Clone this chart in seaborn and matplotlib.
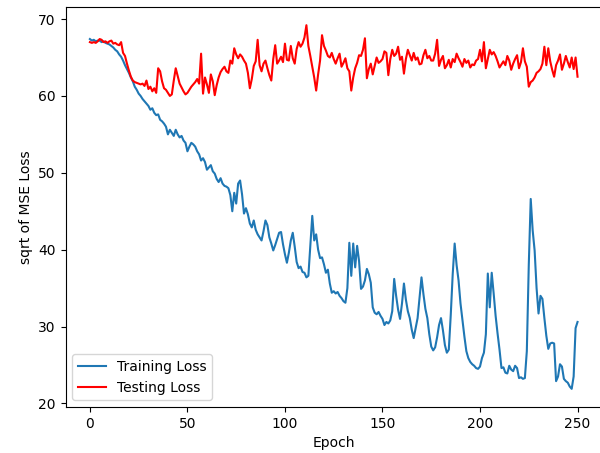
import numpy as np
import pandas as pd
import matplotlib
matplotlib.use("Agg")
import matplotlib.pyplot as plt
import seaborn as sns

# loss values, one per epoch (0..250)
train_loss = [
    67.4, 67.2, 67.3, 67.1, 67.2, 67.2, 67.0, 67.1, 66.9, 66.8,
    66.7, 66.5, 66.3, 66.0, 65.8, 65.4, 65.1, 64.6, 64.0, 63.5,
    63.0, 62.4, 61.9, 61.2, 60.8, 60.3, 60.0, 59.6, 59.3, 59.0,
    58.7, 58.2, 58.4, 57.8, 57.5, 57.6, 56.9, 56.7, 56.4, 56.0,
    55.0, 55.6, 55.2, 54.8, 55.6, 55.0, 54.6, 54.8, 54.2, 53.9,
    52.8, 53.4, 53.9, 53.7, 53.4, 52.8, 52.4, 51.6, 51.9, 51.4,
    50.4, 50.7, 51.0, 50.2, 49.9, 49.2, 48.8, 49.3, 48.6, 48.3,
    48.2, 48.0, 47.1, 45.0, 47.4, 46.0, 48.6, 49.0, 47.2, 44.7,
    45.4, 44.6, 43.4, 42.9, 43.8, 42.6, 42.0, 41.6, 41.2, 42.4,
    43.8, 43.2, 41.6, 40.8, 39.9, 40.6, 41.4, 42.2, 42.3, 40.7,
    39.4, 38.3, 39.6, 41.2, 42.2, 40.4, 38.4, 37.6, 37.8, 37.1,
    37.0, 36.4, 36.6, 40.5, 44.4, 41.2, 42.0, 40.0, 38.9, 39.0,
    38.1, 37.0, 37.4, 35.6, 34.4, 34.6, 34.3, 34.5, 34.0, 33.7,
    33.3, 33.1, 35.0, 40.9, 36.6, 40.8, 37.7, 40.5, 38.5, 34.9,
    35.2, 36.0, 37.5, 36.8, 35.7, 32.5, 31.8, 31.6, 31.9, 31.4,
    31.0, 30.2, 30.6, 30.4, 30.8, 32.0, 36.2, 34.0, 32.2, 31.0,
    33.0, 35.6, 33.5, 32.0, 31.1, 29.6, 28.5, 29.8, 31.1, 33.8,
    36.4, 34.2, 32.3, 31.1, 29.0, 27.4, 26.9, 27.3, 28.6, 30.2,
    31.1, 29.5, 27.6, 26.6, 27.0, 31.5, 36.8, 40.8, 38.0, 36.0,
    33.0, 30.8, 28.7, 26.8, 25.9, 25.4, 25.1, 24.9, 24.6, 24.5,
    24.8, 25.9, 26.6, 29.0, 36.9, 32.5, 37.0, 34.3, 31.4, 29.1,
    27.0, 24.6, 24.7, 24.0, 23.9, 24.9, 24.4, 24.2, 24.9, 24.6,
    23.3, 23.4, 23.2, 23.3, 26.8, 38.0, 46.6, 42.5, 39.9, 35.0,
    31.7, 34.0, 33.6, 31.1, 28.8, 27.1, 27.8, 27.9, 27.8, 22.9,
    23.5, 25.1, 24.8, 23.2, 22.9, 22.7, 22.2, 21.9, 23.5, 29.8,
    30.6,
]

test_loss = [
    67.0, 66.9, 67.0, 66.9, 67.1, 67.4, 67.3, 67.0, 67.1, 66.9,
    67.1, 67.2, 66.8, 66.9, 66.7, 66.6, 67.0, 65.6, 65.2, 64.2,
    63.3, 62.5, 62.0, 61.8, 61.7, 61.6, 61.5, 61.6, 61.3, 62.0,
    60.9, 61.2, 60.6, 61.0, 60.4, 63.6, 63.2, 61.9, 61.0, 60.8,
    60.4, 60.0, 60.2, 62.0, 63.6, 62.6, 61.6, 61.1, 60.6, 60.2,
    60.4, 60.8, 61.2, 61.5, 61.8, 62.2, 61.6, 65.5, 60.3, 62.4,
    61.5, 60.4, 62.8, 61.9, 60.1, 61.4, 62.4, 63.1, 63.5, 63.8,
    63.2, 63.0, 64.6, 64.2, 66.2, 65.4, 64.9, 65.4, 65.1, 64.6,
    64.2, 63.0, 61.0, 62.2, 63.9, 64.5, 67.3, 64.0, 63.2, 64.2,
    64.6, 63.6, 62.7, 62.0, 64.8, 66.6, 64.2, 64.6, 65.1, 64.4,
    66.8, 64.7, 64.6, 66.5, 64.9, 64.2, 66.1, 67.0, 66.4, 66.8,
    67.6, 69.2, 66.5, 65.2, 63.8, 62.4, 60.7, 62.8, 64.6, 67.9,
    66.5, 65.9, 65.2, 65.0, 65.6, 64.8, 64.2, 64.9, 65.5, 63.8,
    64.3, 64.9, 63.6, 63.2, 60.7, 62.4, 63.6, 64.3, 65.3, 65.2,
    66.0, 67.5, 62.3, 63.5, 64.2, 62.8, 63.9, 65.0, 64.3, 64.5,
    64.8, 65.8, 65.6, 62.7, 64.8, 66.0, 65.2, 65.5, 66.4, 64.7,
    65.1, 62.9, 64.8, 66.0, 65.3, 64.6, 65.6, 64.7, 65.0, 64.1,
    64.2, 65.3, 66.0, 64.9, 65.2, 64.6, 64.6, 65.5, 67.3, 63.9,
    64.7, 65.2, 63.6, 64.0, 64.7, 63.7, 64.8, 64.4, 65.5, 64.9,
    64.4, 63.8, 64.8, 64.3, 64.6, 63.7, 64.1, 64.0, 64.6, 64.8,
    66.0, 64.5, 67.0, 63.6, 64.8, 66.0, 65.4, 65.7, 65.2, 64.5,
    63.7, 64.1, 64.5, 64.0, 65.2, 64.6, 63.4, 64.2, 64.8, 65.3,
    63.6, 64.4, 66.2, 64.5, 63.8, 61.2, 61.8, 62.0, 62.4, 63.0,
    63.2, 63.5, 64.2, 66.4, 64.0, 66.2, 64.5, 63.4, 62.5, 64.0,
    64.6, 65.4, 63.4, 64.2, 65.2, 64.4, 63.7, 65.0, 63.5, 65.0,
    62.5,
]

epochs = np.arange(len(train_loss))

df = pd.DataFrame({"Epoch": epochs, "train": train_loss, "test": test_loss})

fig = plt.figure(figsize=(6.0, 4.53), dpi=100)
# the reference is a crop: right spine falls just outside the image
ax = fig.add_axes([0.1092, 0.1015, 0.894, 0.883])

sns.lineplot(data=df, x="Epoch", y="train", color="#1f77b4", label="Training Loss", ax=ax)
sns.lineplot(data=df, x="Epoch", y="test", color="red", label="Testing Loss", ax=ax)

ax.spines["right"].set_visible(False)

ax.set_xlabel("Epoch")
ax.set_ylabel("sqrt of MSE Loss")
ax.legend(loc="lower left")

fig.savefig("out.png", dpi=100)
